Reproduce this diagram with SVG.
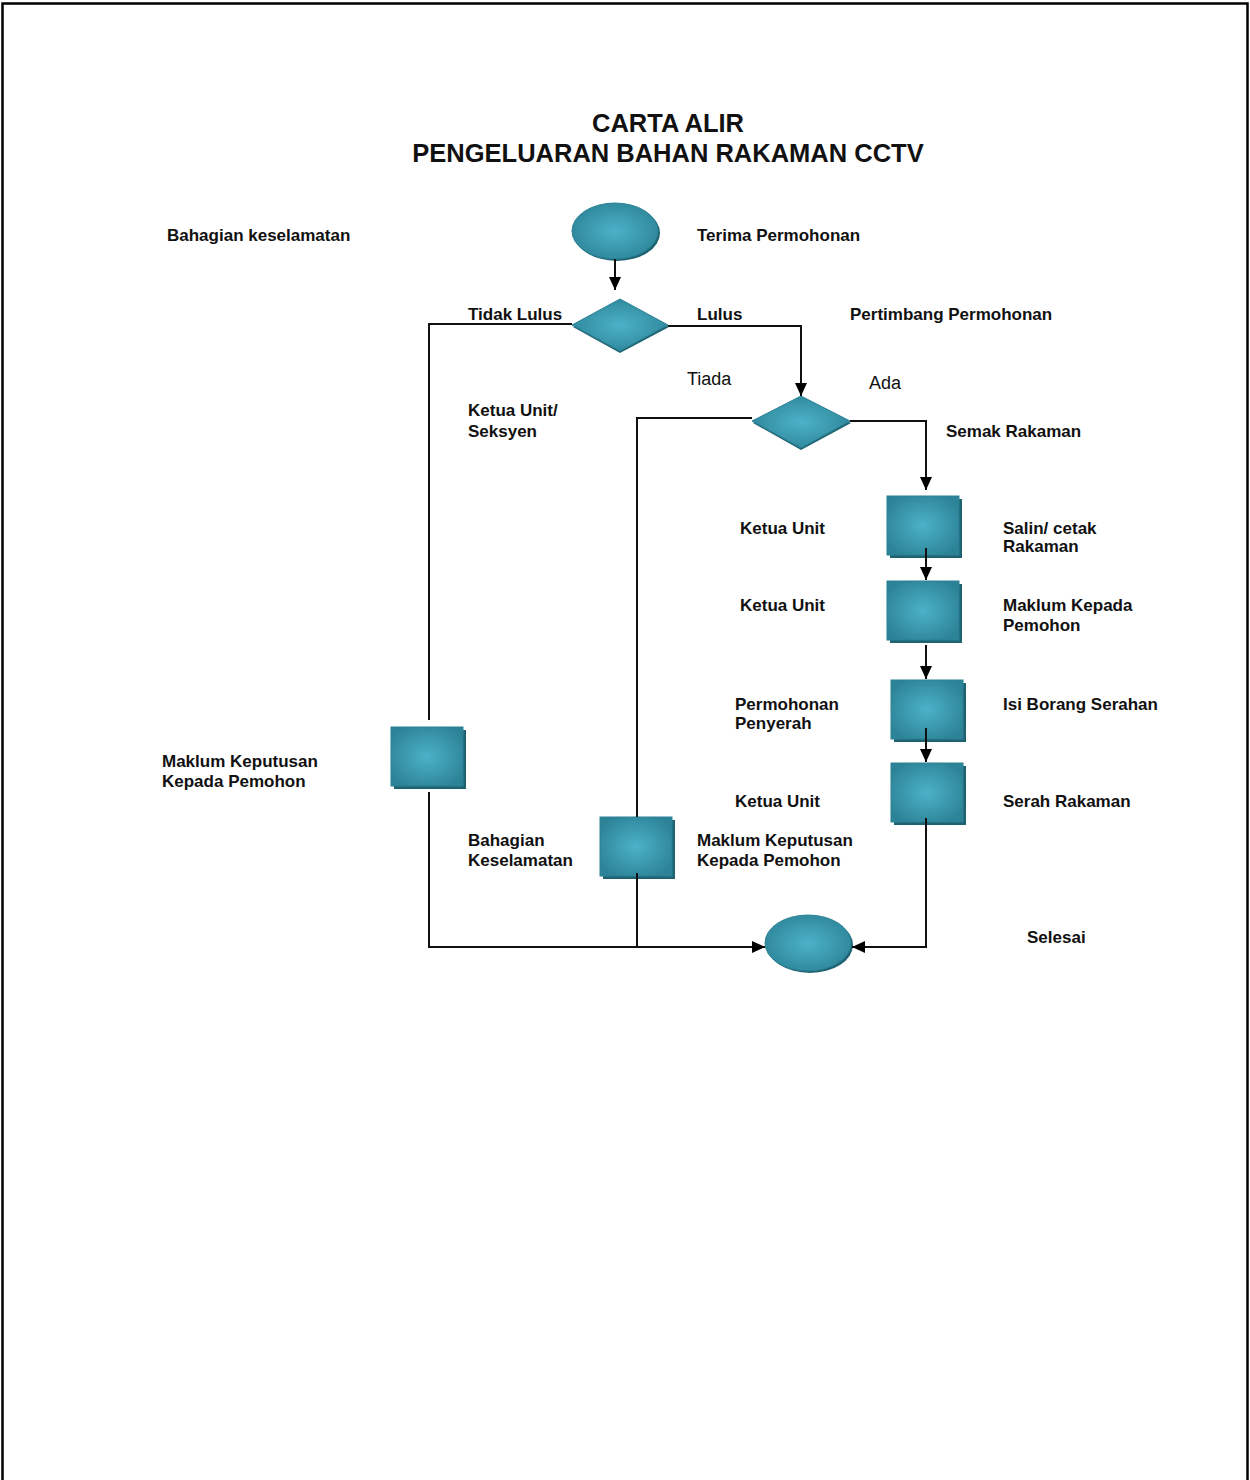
<svg xmlns="http://www.w3.org/2000/svg" width="1250" height="1480" viewBox="0 0 1250 1480">
<style>
.t{font-family:"Liberation Sans",Arial,sans-serif;font-weight:bold;font-size:17px;fill:#111}
.n{font-family:"Liberation Sans",Arial,sans-serif;font-size:18px;fill:#111}
.h{font-family:"Liberation Sans",Arial,sans-serif;font-weight:bold;font-size:25.5px;fill:#111;text-anchor:middle}
.c{fill:none;stroke:#111;stroke-width:2}
.sh{fill:#1f6373}
.f{fill:url(#g);stroke:#2a8194;stroke-width:1}
</style>
<defs>
<radialGradient id="g" cx="0.5" cy="0.5" r="0.6">
<stop offset="0" stop-color="#4cb2c8"/>
<stop offset="1" stop-color="#2c8296"/>
</radialGradient>
<marker id="a" markerWidth="14" markerHeight="14" refX="13" refY="7" orient="auto" markerUnits="userSpaceOnUse">
<path d="M0,1 L13,7 L0,13 Z" fill="#000"/>
</marker>
</defs>
<rect x="2.5" y="3.5" width="1245" height="1495" fill="#fff" stroke="#000" stroke-width="2.5"/>
<text class="h" x="668" y="132">CARTA ALIR</text>
<text class="h" x="668" y="162">PENGELUARAN BAHAN RAKAMAN CCTV</text>

<g id="start">
<ellipse class="sh" cx="617" cy="233" rx="43" ry="28"/>
<ellipse class="f" cx="615" cy="231" rx="43" ry="28"/>
</g>
<g id="d1">
<polygon class="sh" points="620,301 669,327 620,353 573,327"/>
<polygon class="f" points="620,299 668,325 620,351 572,325"/>
</g>
<g id="d2">
<polygon class="sh" points="801,398 851,423 801,450 753,423"/>
<polygon class="f" points="801,396 850,421 801,448 752,421"/>
</g>
<g id="b1"><rect class="sh" x="890" y="499" width="72" height="59"/><rect class="f" x="887" y="496" width="72" height="59"/></g>
<g id="b2"><rect class="sh" x="890" y="584" width="72" height="59"/><rect class="f" x="887" y="581" width="72" height="59"/></g>
<g id="b3"><rect class="sh" x="894" y="683" width="72" height="59"/><rect class="f" x="891" y="680" width="72" height="59"/></g>
<g id="b4"><rect class="sh" x="894" y="766" width="72" height="59"/><rect class="f" x="891" y="763" width="72" height="59"/></g>
<g id="bl"><rect class="sh" x="394" y="730" width="72" height="59"/><rect class="f" x="391" y="727" width="72" height="59"/></g>
<g id="bm"><rect class="sh" x="603" y="820" width="72" height="59"/><rect class="f" x="600" y="817" width="72" height="59"/></g>
<g id="end">
<ellipse class="sh" cx="810" cy="945" rx="43" ry="28"/>
<ellipse class="f" cx="808" cy="943" rx="43" ry="28"/>
</g>

<g id="connectors">
<path class="c" d="M615,259 V290" marker-end="url(#a)"/>
<path class="c" d="M572,324 H429 V720"/>
<path class="c" d="M429,792 V947 H637"/>
<path class="c" d="M668,326 H801 V396" marker-end="url(#a)"/>
<path class="c" d="M752,418 H637 V817"/>
<path class="c" d="M850,421 H926 V490" marker-end="url(#a)"/>
<path class="c" d="M926,548 V580" marker-end="url(#a)"/>
<path class="c" d="M926,645 V679" marker-end="url(#a)"/>
<path class="c" d="M926,728 V762" marker-end="url(#a)"/>
<path class="c" d="M637,873 V947 H765" stroke="#444" stroke-width="2.5" marker-end="url(#a)"/>
<path class="c" d="M926,818 V947 H852" marker-end="url(#a)"/>
</g>

<g id="labels">
<text class="t" x="167" y="241">Bahagian keselamatan</text>
<text class="t" x="697" y="241">Terima Permohonan</text>
<text class="t" x="468" y="320">Tidak Lulus</text>
<text class="t" x="697" y="320">Lulus</text>
<text class="t" x="850" y="320">Pertimbang Permohonan</text>
<text class="n" x="687" y="385">Tiada</text>
<text class="n" x="869" y="389">Ada</text>
<text class="t" x="468" y="416">Ketua Unit/</text>
<text class="t" x="468" y="437">Seksyen</text>
<text class="t" x="946" y="437">Semak Rakaman</text>
<text class="t" x="740" y="534">Ketua Unit</text>
<text class="t" x="1003" y="534">Salin/ cetak</text>
<text class="t" x="1003" y="552">Rakaman</text>
<text class="t" x="740" y="611">Ketua Unit</text>
<text class="t" x="1003" y="611">Maklum Kepada</text>
<text class="t" x="1003" y="631">Pemohon</text>
<text class="t" x="735" y="710">Permohonan</text>
<text class="t" x="735" y="729">Penyerah</text>
<text class="t" x="1003" y="710">Isi Borang Serahan</text>
<text class="t" x="162" y="767">Maklum Keputusan</text>
<text class="t" x="162" y="787">Kepada Pemohon</text>
<text class="t" x="735" y="807">Ketua Unit</text>
<text class="t" x="1003" y="807">Serah Rakaman</text>
<text class="t" x="468" y="846">Bahagian</text>
<text class="t" x="468" y="866">Keselamatan</text>
<text class="t" x="697" y="846">Maklum Keputusan</text>
<text class="t" x="697" y="866">Kepada Pemohon</text>
<text class="t" x="1027" y="943">Selesai</text>
</g>
</svg>
